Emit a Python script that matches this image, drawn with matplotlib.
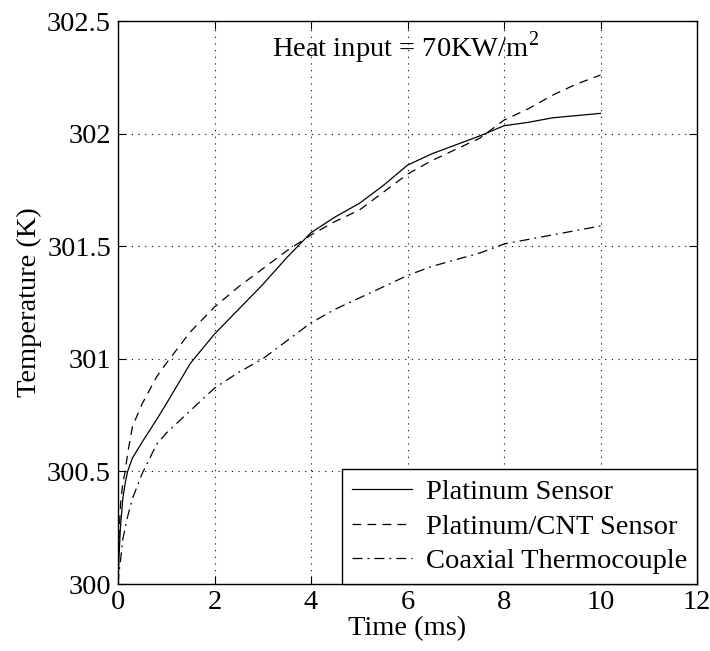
import numpy as np
import matplotlib
matplotlib.use("Agg")
import matplotlib.pyplot as plt

plt.rcParams['font.family'] = ['Liberation Serif', 'DejaVu Serif']
plt.rcParams['mathtext.fontset'] = 'custom'
plt.rcParams['mathtext.rm'] = 'Liberation Serif'

# time (ms)
t = [0, 0.02, 0.05, 0.1, 0.15, 0.2, 0.3, 0.5, 0.8, 1.0, 1.5, 2, 2.5, 3, 3.5,
     4, 4.5, 5, 5.5, 6, 6.5, 7, 7.5, 8, 8.5, 9, 9.5, 10]

# temperatures (K)
platinum = [300.0, 300.12, 300.25, 300.38, 300.45, 300.5, 300.56, 300.63, 300.73, 300.8,
            300.98, 301.11, 301.22, 301.33, 301.45, 301.56, 301.63, 301.69, 301.77, 301.86,
            301.91, 301.95, 301.99, 302.035, 302.05, 302.07, 302.08, 302.09]
platinum_cnt = [300.0, 300.2, 300.35, 300.45, 300.5, 300.58, 300.7, 300.8, 300.92, 300.98,
                301.12, 301.23, 301.32, 301.40, 301.48, 301.55, 301.61, 301.66, 301.74, 301.82,
                301.88, 301.93, 301.98, 302.06, 302.11, 302.17, 302.22, 302.26]
coaxial = [300.0, 300.05, 300.1, 300.2, 300.25, 300.3, 300.38, 300.49, 300.62, 300.67,
           300.77, 300.87, 300.94, 301.0, 301.08, 301.16, 301.22, 301.27, 301.32, 301.37,
           301.41, 301.44, 301.47, 301.51, 301.53, 301.55, 301.57, 301.59]

FS = 20.5

fig = plt.figure(figsize=(7.1, 6.51), dpi=100)
ax = fig.add_axes([0.1662, 0.1029, 0.8155, 0.8648])

ax.plot(t, platinum, color='k', lw=0.9, ls='-', label='Platinum Sensor')
ax.plot(t, platinum_cnt, color='k', lw=0.9, ls=(0, (7, 5)), label='Platinum/CNT Sensor')
ax.plot(t, coaxial, color='k', lw=0.9, ls=(0, (8, 4, 1.5, 4)), label='Coaxial Thermocouple')

ax.set_xlim(0, 12)
ax.set_ylim(300, 302.5)
ax.set_xticks(np.arange(0, 13, 2))
ax.set_yticks([300, 300.5, 301, 301.5, 302, 302.5])
ax.set_yticklabels(['300', '300.5', '301', '301.5', '302', '302.5'])
ax.grid(True, color='k', ls=(0, (1, 5)), lw=0.8)
ax.tick_params(direction='in', length=6, width=0.8, top=True, right=True,
               labelsize=FS)
ax.tick_params(axis='y', pad=5)
ax.tick_params(axis='x', pad=4)
for s in ax.spines.values():
    s.set_linewidth(1.0)

ax.set_xlabel('Time (ms)', fontsize=FS, labelpad=1)
ax.set_ylabel('Temperature (K)', fontsize=FS, labelpad=4)

ax.text(3.2, 302.38, r'Heat input = 70KW/m$^2$', fontsize=FS, va='center', ha='left')

leg = ax.legend(loc='lower right', fontsize=FS, frameon=True, fancybox=False,
                edgecolor='k', framealpha=1, borderaxespad=0, handlelength=2.1,
                handletextpad=0.5, borderpad=0.35, labelspacing=0.3)
leg.get_frame().set_linewidth(1.0)

fig.savefig('out.png', dpi=100)
